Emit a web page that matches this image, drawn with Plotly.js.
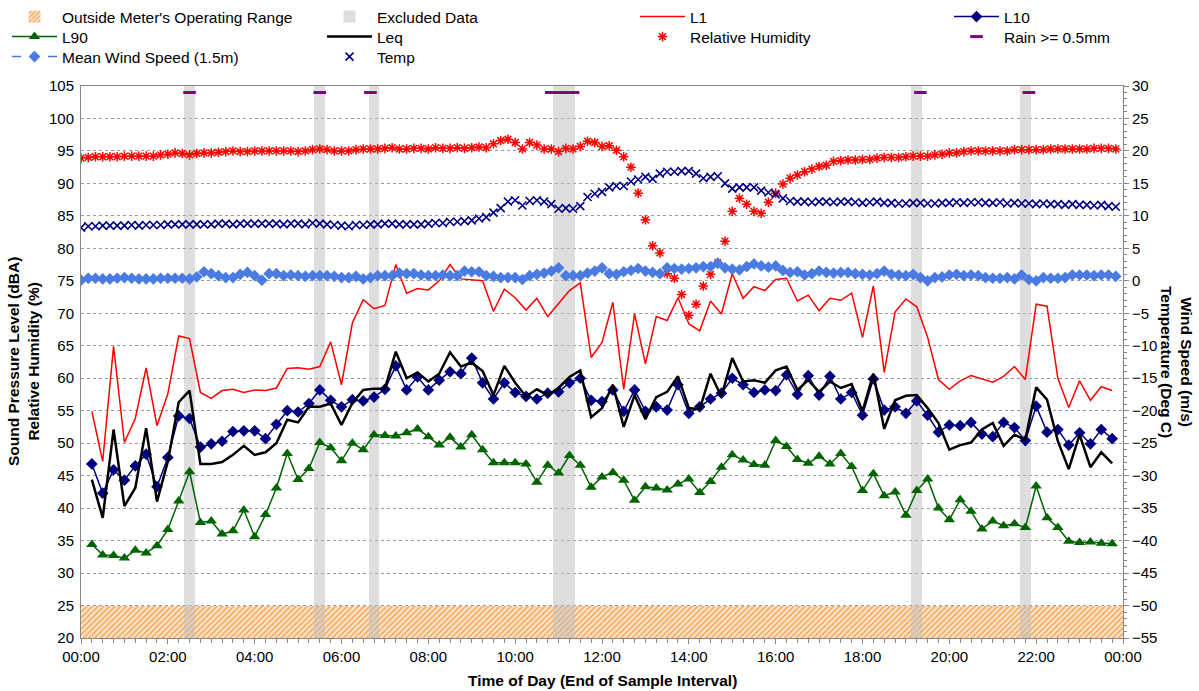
<!DOCTYPE html>
<html><head><meta charset="utf-8">
<script src="https://cdn.plot.ly/plotly-3.0.1.min.js"></script>
<style>html,body{margin:0;padding:0;background:#fff}#chart{width:1199px;height:691px}</style>
</head><body><div id="chart"></div>
<script>
// ---- Noise statistics: 15-minute intervals (end of interval), first ends 00:15
const noiseFirstHour = 0.25, noiseStepHours = 0.25;
const L1 = [54.9,47.2,64.9,50.1,53.8,61.6,52.7,57.6,66.5,66.1,57.8,56.9,58.1,58.3,57.8,58.2,58.1,58.5,61.5,61.6,61.4,61.8,65.6,59.0,68.5,72.1,70.7,71.2,77.5,73.1,
  73.8,73.6,75.0,77.5,75.3,75.2,75.0,70.3,73.7,72.4,70.5,72.3,69.5,71.5,73.5,74.7,63.2,65.5,71.7,58.3,69.9,62.2,69.5,68.9,72.4,68.4,67.3,71.9,69.9,76.1,72.3,74.1,73.5,
  75.2,75.4,71.9,72.8,70.4,72.3,72.0,73.1,66.3,74.2,60.9,70.2,72.2,71.0,66.3,59.8,58.3,59.6,60.4,59.9,59.4,60.3,61.8,59.8,71.4,71.1,60.0,55.5,59.6,56.6,58.7,58.1];
const L10 = [46.8,42.3,45.9,44.3,46.5,48.3,43.3,47.8,54.2,53.8,49.4,49.9,50.3,51.8,51.9,51.9,50.7,52.9,55.0,54.8,56.1,58.2,56.6,55.6,56.7,56.5,57.1,58.3,61.9,58.2,
  60.2,58.2,59.7,61.0,60.7,63.1,59.3,56.8,59.3,57.8,57.2,56.8,57.7,57.9,59.3,60.0,56.6,56.4,58.2,54.9,58.2,54.9,55.6,55.1,59.0,54.6,55.6,56.8,57.7,60.0,59.0,57.8,58.2,
  58.1,60.5,57.5,60.4,57.4,60.3,56.8,57.8,54.3,59.9,55.1,55.6,54.6,56.5,54.3,51.7,52.8,52.7,53.2,51.4,51.0,53.2,52.4,50.4,55.7,51.7,52.1,49.7,51.6,49.9,52.1,50.7];
const L90 = [34.4,32.8,32.7,32.3,33.5,33.1,34.2,36.7,41.1,45.6,37.8,38.0,36.0,36.5,39.7,35.6,39.0,43.1,48.4,44.4,46.1,50.1,49.3,47.3,50.0,49.0,51.3,51.2,51.1,51.6,
  52.2,51.0,49.7,50.9,49.4,51.3,49.0,47.0,47.0,47.0,46.8,44.0,46.6,45.4,48.1,46.6,43.2,44.8,45.5,44.3,41.2,43.3,43.1,42.8,43.7,44.5,42.4,44.1,46.3,48.2,47.4,46.7,46.6,
  50.4,49.5,47.5,46.9,48.0,46.8,48.4,46.4,42.7,45.3,41.9,42.5,38.9,42.7,44.5,40.0,38.2,41.3,39.5,36.8,38.0,37.3,37.6,37.0,43.4,38.5,37.0,34.9,34.7,34.8,34.6,34.5];
const Leq = [44.4,38.5,52.1,40.3,43.1,52.3,41.0,47.2,56.3,58.1,46.8,46.8,47.1,48.2,49.6,48.2,48.6,50.0,53.6,53.2,55.6,55.6,56.1,52.8,56.2,58.2,58.4,58.4,64.1,60.0,
  60.9,59.5,60.7,64.0,61.8,62.4,61.1,57.4,61.9,59.3,57.2,58.3,57.4,58.5,60.2,61.2,54.0,55.4,59.0,52.5,57.4,53.7,57.1,57.9,60.3,55.4,55.2,60.7,57.2,63.1,59.5,59.7,59.3,
  61.2,61.8,58.2,59.7,57.9,59.5,58.5,59.1,54.9,60.7,52.2,56.6,57.3,57.4,55.4,53.1,49.0,49.7,50.1,52.1,53.1,49.6,51.3,50.5,58.6,56.7,50.3,46.0,51.3,46.3,48.6,46.9];

// ---- Weather: 10-minute intervals, first at 00:00
const weatherFirstHour = 0, weatherStepHours = 1/6;
const relHumidity = [93.9,94.0,94.1,94.1,94.1,94.1,94.2,94.2,94.2,94.2,94.2,94.4,94.5,94.7,94.6,94.4,94.6,94.7,94.7,94.8,
  94.9,95.0,94.9,94.9,95.0,95.0,95.0,95.0,95.0,95.0,94.9,95.0,95.2,95.3,95.2,95.0,95.0,95.0,95.2,95.3,95.3,95.3,95.4,95.5,95.3,
  95.3,95.4,95.4,95.3,95.5,95.4,95.4,95.5,95.4,95.5,95.6,95.5,96.1,96.6,96.8,96.3,95.3,96.3,95.9,95.3,95.3,94.9,95.4,95.3,95.7,
  96.5,96.3,95.7,95.8,95.1,94.1,92.5,88.5,84.4,80.4,79.3,76.1,75.4,72.9,69.7,71.4,74.2,76.0,77.8,81.1,85.7,87.7,86.8,85.7,85.4,87.1,
  88.5,89.9,90.8,91.3,91.8,92.2,92.6,92.8,93.4,93.5,93.6,93.6,93.7,93.7,93.9,94.0,94.0,94.0,94.1,94.2,94.2,94.2,94.4,94.5,94.7,
  94.7,94.9,95.0,95.0,95.0,95.0,95.0,95.0,95.2,95.2,95.2,95.2,95.2,95.3,95.3,95.3,95.3,95.3,95.3,95.4,95.4,95.4,95.3];
const temperature = [8.2,8.4,8.4,8.5,8.5,8.5,8.5,8.6,8.5,8.6,8.6,8.6,8.7,8.7,8.7,8.7,8.7,8.7,8.7,8.8,
  8.8,8.7,8.8,8.8,8.8,8.8,8.8,8.8,8.7,8.8,8.8,8.7,8.9,8.8,8.7,8.6,8.5,8.4,8.6,8.6,8.7,8.7,8.8,8.8,8.7,
  8.7,8.7,8.7,8.8,8.9,8.9,9.1,9.1,9.2,9.3,9.6,9.8,10.5,11.2,12.2,12.4,11.6,12.3,12.4,12.2,11.8,11.1,11.2,11.1,11.5,
  12.9,13.4,13.7,14.4,14.6,14.6,15.3,15.6,16.0,15.7,16.5,16.8,16.8,16.9,16.9,16.5,15.8,16.0,16.1,15.0,14.2,14.4,14.4,14.4,13.9,13.6,
  13.3,12.7,12.3,12.2,12.2,12.1,12.2,12.2,12.1,12.2,12.2,12.1,12.0,12.1,12.2,12.0,12.0,11.9,11.9,12.0,
  12.0,11.9,11.9,12.0,12.0,12.1,12.0,12.1,12.1,12.0,12.0,12.1,11.9,12.0,11.9,11.9,11.8,11.9,11.8,11.8,
  11.7,11.8,11.7,11.7,11.6,11.7,11.5,11.4];
const windSpeed = [0.1,0.4,0.4,0.3,0.3,0.4,0.5,0.4,0.3,0.3,0.3,0.4,0.4,0.4,0.4,0.3,0.6,1.4,1.1,0.8,
  0.5,0.5,1.0,1.3,0.8,0.1,1.1,1.1,0.8,0.9,0.8,0.7,0.8,0.8,0.8,0.7,0.5,0.5,0.7,0.3,0.5,0.8,0.8,0.8,1.2,
  1.1,1.1,0.9,0.8,0.8,0.9,0.8,0.8,1.5,1.4,1.4,0.8,0.7,0.5,0.5,0.5,0.2,0.8,1.0,1.2,1.5,2.0,0.8,0.8,0.8,
  1.2,1.5,2.0,1.1,1.0,1.4,1.6,1.9,1.5,1.3,1.1,2.0,1.9,1.8,1.9,2.0,2.2,2.2,2.7,2.0,1.8,1.7,2.2,2.6,2.3,2.1,
  2.3,1.6,1.3,1.4,0.9,1.1,1.5,1.3,1.2,1.3,1.3,1.1,1.0,0.9,1.1,1.5,1.0,0.9,0.8,1.0,
  0.5,0.0,0.5,0.6,0.9,1.0,0.8,0.9,0.8,0.5,0.4,0.4,0.5,0.3,0.9,0.2,0.0,0.5,0.4,0.4,
  0.5,0.9,0.9,0.9,0.8,0.9,0.9,0.7];

const rainTimes = ['02:30','05:30','06:40','10:50','11:00','11:10','11:20','19:20','21:50'];
const excludedTimes = ['02:30','05:30','06:45','11:00','11:15','19:15','21:45'];
const meterFloor = 25;            // dBA, lower limit of meter operating range
const xTickLabels = ['00:00','02:00','04:00','06:00','08:00','10:00','12:00','14:00','16:00','18:00','20:00','22:00','00:00'];

// ---- helpers / styling
const toHours = s => { const p = s.split(':'); return +p[0] + (+p[1]) / 60; };
const FONT = 'Liberation Sans, Arial, sans-serif';
const yMin = 20, yMax = 105, y2Min = -55, y2Max = 30;
const rainLevel = 29;
const excludedHours = excludedTimes.map(toHours);
const rainHours = rainTimes.map(toHours);

const traces = [
  {type:'bar', name:"Outside Meter's Operating Range", x:[12], y:[meterFloor - yMin], base:[yMin], width:[24],
   marker:{color:'#FBD7B0', line:{width:0}, pattern:{shape:'/', fgcolor:'#F5A04A', bgcolor:'#FDE3C8', size:4, solidity:0.35}},
   legend:'legend', hoverinfo:'skip'},
  {type:'bar', name:'Excluded Data', x:excludedHours, y:excludedHours.map(() => yMax - yMin), base:yMin, width:0.25,
   marker:{color:'rgba(190,190,190,0.5)', line:{width:0}}, legend:'legend2', hoverinfo:'skip'},
  {type:'scatter', mode:'lines', name:'L1', x0:noiseFirstHour, dx:noiseStepHours, y:L1,
   line:{color:'#FF0000', width:1.5}, legend:'legend3'},
  {type:'scatter', mode:'lines+markers', name:'L10', x0:noiseFirstHour, dx:noiseStepHours, y:L10,
   line:{color:'#000080', width:1.5}, marker:{symbol:'diamond', size:9, color:'#000080'}, legend:'legend4'},
  {type:'scatter', mode:'lines+markers', name:'L90', x0:noiseFirstHour, dx:noiseStepHours, y:L90,
   line:{color:'#006400', width:1.5}, marker:{symbol:'triangle-up', size:10, color:'#006400'}, legend:'legend5'},
  {type:'scatter', mode:'lines', name:'Leq', x0:noiseFirstHour, dx:noiseStepHours, y:Leq,
   line:{color:'#000000', width:2.5}, legend:'legend6'},
  {type:'scatter', mode:'markers', name:'Relative Humidity', x0:weatherFirstHour, dx:weatherStepHours, y:relHumidity,
   marker:{symbol:'asterisk-open', size:8, color:'#FF0000', line:{color:'#FF0000', width:1.5}}, legend:'legend7'},
  {type:'scatter', mode:'markers', name:'Rain >= 0.5mm', x:rainHours, y:rainHours.map(() => rainLevel), yaxis:'y2',
   marker:{symbol:'line-ew-open', size:9, color:'#800080', line:{color:'#800080', width:3}}, legend:'legend8'},
  {type:'scatter', mode:'lines+markers', name:'Mean Wind Speed (1.5m)', x0:weatherFirstHour, dx:weatherStepHours, y:windSpeed, yaxis:'y2',
   line:{color:'#4A7BE3', width:1.5, dash:'dash'}, marker:{symbol:'diamond', size:9, color:'#4A7BE3'}, legend:'legend9'},
  {type:'scatter', mode:'markers', name:'Temp', x0:weatherFirstHour, dx:weatherStepHours, y:temperature, yaxis:'y2',
   marker:{symbol:'x-thin-open', size:8, color:'#000080', line:{color:'#000080', width:1.6}}, legend:'legend10'}
];

// legend grid: 4 columns x 3 rows (text start x, row centre y in px)
const colX = [62, 377, 690, 1004], rowY = [17, 37, 57];
const slots = [[0,0],[1,0],[2,0],[3,0],[0,1],[1,1],[2,1],[3,1],[0,2],[1,2]];
const W = 1199, H = 691;
const layout = {
  width: W, height: H,
  margin: {l:81, r:76, t:86, b:53, autoexpand:false},
  paper_bgcolor:'#ffffff', plot_bgcolor:'#ffffff',
  font: {family: FONT, size: 15, color:'#000'},
  barmode:'overlay', bargap:0,
  showlegend:true, hovermode:false,
  xaxis: {range:[0,24], tickmode:'array', tickvals:xTickLabels.map((_, k) => 2 * k), ticktext:xTickLabels,
    ticks:'outside', ticklen:5, tickcolor:'#868686', showline:true, linecolor:'#868686', mirror:true,
    showgrid:false, zeroline:false, tickfont:{size:15},
    minor:{tickmode:'linear', tick0:0, dtick:0.25, ticks:'outside', ticklen:4, tickcolor:'#868686', showgrid:false}},
  yaxis: {range:[yMin,yMax], tickmode:'linear', tick0:20, dtick:5, ticks:'', showline:true, linecolor:'#868686', mirror:true,
    showgrid:true, gridcolor:'#9a9a9a', griddash:'dot', gridwidth:1, zeroline:false, tickfont:{size:15}, ticklabelstandoff:3},
  yaxis2: {range:[y2Min,y2Max], overlaying:'y', side:'right', tickmode:'linear', tick0:-55, dtick:5,
    ticks:'outside', ticklen:5, tickcolor:'#868686', showline:true, linecolor:'#868686', showgrid:false, zeroline:false,
    tickfont:{size:15},
    minor:{tickmode:'linear', tick0:-55, dtick:1, ticks:'outside', ticklen:3, tickcolor:'#868686', showgrid:false}},
  annotations: [
    {text:'<b>Time of Day (End of Sample Interval)</b>', xref:'paper', yref:'paper', x:0.5, y:-(680-638)/552,
     xanchor:'center', yanchor:'middle', showarrow:false, font:{size:15.5}},
    {text:'<b>Sound Pressure Level (dBA)<br>Relative Humidity (%)</b>', xref:'paper', yref:'paper', x:(23-81)/1042, y:0.5,
     xanchor:'center', yanchor:'middle', textangle:-90, showarrow:false, font:{size:15.5}},
    {text:'<b>Wind Speed (m/s)<br>Temperature (Deg C)</b>', xref:'paper', yref:'paper', x:(1177-81)/1042, y:0.5,
     xanchor:'center', yanchor:'middle', textangle:90, showarrow:false, font:{size:15.5}}
  ]
};
slots.forEach((s, k) => {
  const key = k === 0 ? 'legend' : 'legend' + (k + 1);
  layout[key] = {xref:'container', yref:'container', x:(colX[s[0]] - 55) / W, y:1 - rowY[s[1]] / H,
    xanchor:'left', yanchor:'middle', bgcolor:'rgba(0,0,0,0)', borderwidth:0, itemwidth:45,
    font:{size:15.5, family:FONT}, tracegroupgap:0};
});
Plotly.newPlot('chart', traces, layout, {displayModeBar:false, staticPlot:true});
</script>
</body></html>
